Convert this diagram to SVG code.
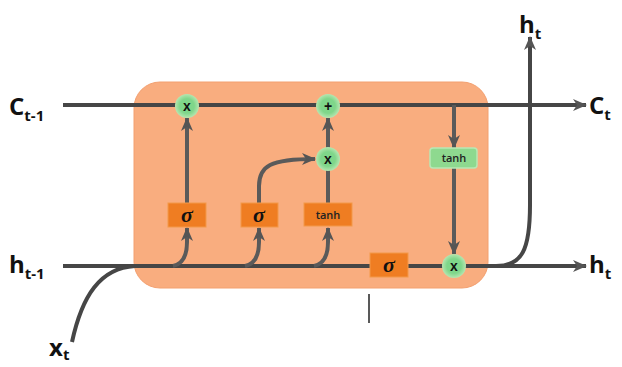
<svg xmlns="http://www.w3.org/2000/svg" width="622" height="367" viewBox="0 0 622 367">
<defs>
<marker id="ah" markerUnits="userSpaceOnUse" markerWidth="14" markerHeight="12" refX="13" refY="6" orient="auto">
<path d="M0,0 L14,6 L0,12 L4,6 Z" fill="#555"/>
</marker>
<radialGradient id="glow">
<stop offset="0.6" stop-color="#7fd68a"/>
<stop offset="1" stop-color="#b5e6b0"/>
</radialGradient>
<style>
.ln{fill:none;stroke:#464646;stroke-width:4;stroke-linecap:butt}
.gl{fill:none;stroke:#5a5a5a;stroke-width:4}
.ob{fill:#ef7d22;stroke:#f39a4a;stroke-width:1}
.gc{fill:url(#glow)}
.gb{fill:#8ed98f;stroke:#b8e8b5;stroke-width:1.5}
.op{font-family:"Liberation Sans",Arial,sans-serif;font-weight:bold;font-size:14px;fill:#111;text-anchor:middle}
.sg{font-family:"Liberation Serif","Times New Roman",serif;font-style:italic;font-weight:bold;font-size:22px;fill:#111;text-anchor:middle}
.tn{font-family:"Open Sans","Liberation Sans",sans-serif;font-weight:600;font-size:11px;fill:#222;text-anchor:middle}
.lb{font-family:"Open Sans","Liberation Sans",sans-serif;font-weight:bold;font-size:24px;fill:#111}
.sb{font-size:15px}
</style>
</defs>
<rect width="622" height="367" fill="#fff"/>
<g id="cell">
<rect x="134" y="82" width="354" height="206" rx="26" fill="#f9ad7f" stroke="#f3a070" stroke-width="1"/>
</g>
<g id="connectors">
<path class="ln" d="M63 105 L586 105" marker-end="url(#ah)"/>
<path class="ln" d="M63 266 L586 266" marker-end="url(#ah)"/>
<path class="ln" d="M72 342 C82 296 100 268 135 266"/>
<path class="gl" d="M173 266 C183 264 187 256 187 242 L187 228" marker-end="url(#ah)"/>
<path class="gl" d="M187 203 L187 118" marker-end="url(#ah)"/>
<path class="gl" d="M245 266 C255 264 259 256 259 242 L259 228" marker-end="url(#ah)"/>
<path class="gl" d="M259 203 L259 186 C259 166 270 159 315 159" marker-end="url(#ah)"/>
<path class="gl" d="M314 266 C324 264 328 256 328 242 L328 228" marker-end="url(#ah)"/>
<path class="gl" d="M328 203 L328 170"/>
<path class="gl" d="M328 148 L328 118" marker-end="url(#ah)"/>
<path class="gl" d="M454 105 L454 148" marker-end="url(#ah)"/>
<path class="gl" d="M454 168 L454 254" marker-end="url(#ah)"/>
<path class="ln" d="M496 266 C522 266 530 250 530 205 L530 37" marker-end="url(#ah)"/>
<line x1="369" y1="294" x2="369" y2="323" stroke="#222" stroke-width="1.5"/>
</g>
<g id="mul-forget"><circle class="gc" cx="187" cy="106" r="12"/><text class="op" x="187" y="111">x</text></g>
<g id="add-cell"><circle class="gc" cx="328" cy="106" r="12"/><text class="op" x="328" y="111">+</text></g>
<g id="mul-input"><circle class="gc" cx="328" cy="159" r="12"/><text class="op" x="328" y="164">x</text></g>
<g id="mul-output"><circle class="gc" cx="454" cy="266" r="12"/><text class="op" x="454" y="271">x</text></g>
<g id="sigma-forget"><rect class="ob" x="168" y="203" width="38" height="24"/><text class="sg" x="187" y="222">σ</text></g>
<g id="sigma-input"><rect class="ob" x="241" y="203" width="37" height="24"/><text class="sg" x="259" y="222">σ</text></g>
<g id="tanh-input"><rect class="ob" x="304" y="203" width="48" height="23"/><text class="tn" x="328" y="219">tanh</text></g>
<g id="sigma-output"><rect class="ob" x="370" y="253" width="38" height="24"/><text class="sg" x="389" y="272">σ</text></g>
<g id="tanh-cell"><rect class="gb" x="430" y="148" width="47" height="20" rx="3"/><text class="tn" x="454" y="162">tanh</text></g>
<g id="labels">
<text class="lb" x="9" y="115">C<tspan class="sb" dy="6">t-1</tspan></text>
<text class="lb" x="9" y="273">h<tspan class="sb" dy="6">t-1</tspan></text>
<text class="lb" x="49" y="356">x<tspan class="sb" dy="4">t</tspan></text>
<text class="lb" x="519" y="33">h<tspan class="sb" dy="6">t</tspan></text>
<text class="lb" x="589" y="114">C<tspan class="sb" dy="6">t</tspan></text>
<text class="lb" x="589" y="273">h<tspan class="sb" dy="6">t</tspan></text>
</g>
</svg>
